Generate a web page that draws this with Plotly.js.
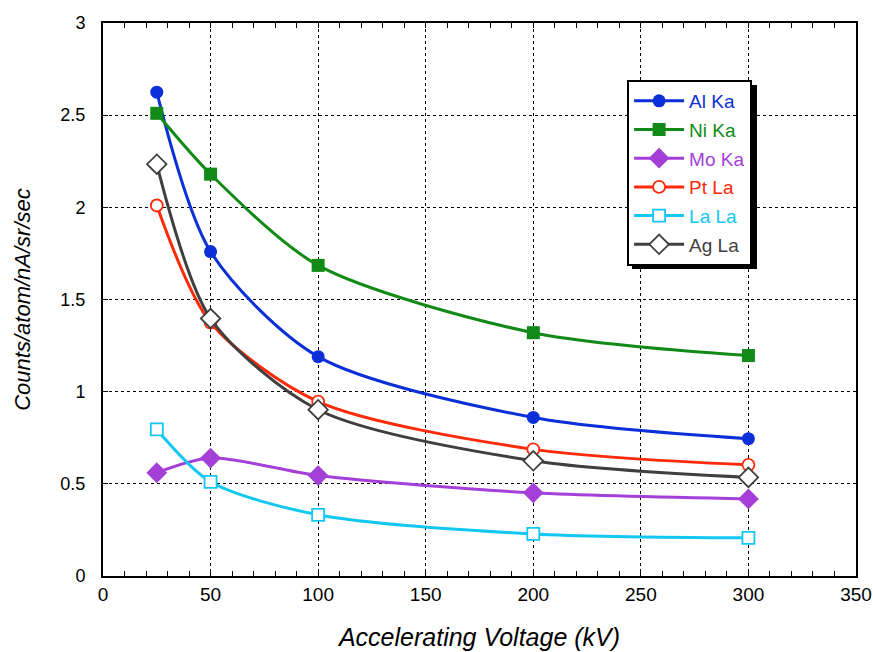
<!DOCTYPE html>
<html>
<head>
<meta charset="utf-8">
<script src="https://cdn.plot.ly/plotly-3.0.1.min.js"></script>
<style>html,body{margin:0;padding:0;background:#fff;}#chart{width:873px;height:652px;}</style>
</head>
<body>
<div id="chart"></div>
<script>
// Data
var voltages = [25, 50, 100, 200, 300];
var alKa = [2.625, 1.76, 1.19, 0.86, 0.745];
var niKa = [2.51, 2.18, 1.685, 1.32, 1.196];
var moKa = [0.56, 0.64, 0.545, 0.451, 0.418];
var ptLa = [2.01, 1.375, 0.946, 0.687, 0.603];
var laLa = [0.795, 0.511, 0.332, 0.228, 0.207];
var agLa = [2.234, 1.397, 0.902, 0.625, 0.535];
var seriesNames = ['Al Ka', 'Ni Ka', 'Mo Ka', 'Pt La', 'La La', 'Ag La'];

var styles = [
  {color: '#0b2fd8', symbol: 'circle', size: 13, open: false},
  {color: '#118a17', symbol: 'square', size: 13, open: false},
  {color: '#a43fd8', symbol: 'diamond', size: 16, open: false},
  {color: '#ff2a0a', symbol: 'circle', size: 12, open: true},
  {color: '#12c8f2', symbol: 'square', size: 12, open: true},
  {color: '#3f3f3f', symbol: 'diamond', size: 15, open: true}
];
var values = [alKa, niKa, moKa, ptLa, laLa, agLa];

var traces = values.map(function (v, i) {
  var s = styles[i];
  return {
    x: voltages, y: v, type: 'scatter', mode: 'lines+markers',
    name: '<span style="color:' + s.color + '">' + seriesNames[i] + '</span>',
    legendgroup: 'g' + i,
    line: {color: s.color, width: 3, shape: 'spline', smoothing: 0.8},
    marker: {color: s.open ? '#ffffff' : s.color, symbol: s.symbol, size: s.size,
             line: {color: s.color, width: s.open ? 1.8 : 0}},
    cliponaxis: false
  };
});

var font = "'Liberation Sans', Arial, Helvetica, sans-serif";
var layout = {
  width: 873, height: 652,
  margin: {l: 103, r: 17, t: 23, b: 76},
  paper_bgcolor: '#fff', plot_bgcolor: '#fff',
  font: {family: font, size: 18, color: '#000'},
  showlegend: true,
  legend: {
    x: 0.696, y: 0.897, xanchor: 'left', yanchor: 'top',
    bgcolor: '#fff', bordercolor: '#000', borderwidth: 2,
    font: {family: font, size: 19},
    itemwidth: 50,
    traceorder: 'grouped', tracegroupgap: 1
  },
  xaxis: {
    range: [0, 350], dtick: 50, tick0: 0,
    showgrid: true, gridcolor: '#000', griddash: 'dot', gridwidth: 1,
    zeroline: false, showline: true, linecolor: '#000', linewidth: 2, mirror: 'allticks',
    ticks: 'inside', ticklen: 5, tickcolor: '#000',
    minor: {dtick: 10, ticks: 'inside', ticklen: 5, tickcolor: '#000', showgrid: false},
    tickfont: {size: 19},
    title: {text: 'Accelerating Voltage (kV)', font: {size: 25, style: 'italic'}, standoff: 25}
  },
  yaxis: {
    range: [0, 3], dtick: 0.5, tick0: 0,
    showgrid: true, gridcolor: '#000', griddash: 'dot', gridwidth: 1,
    zeroline: false, showline: true, linecolor: '#000', linewidth: 2, mirror: true,
    ticks: 'inside', ticklen: 5, tickcolor: '#000',
    ticklabelstandoff: 12,
    tickfont: {size: 18},
    title: {text: 'Counts/atom/nA/sr/sec', font: {size: 22, style: 'italic'}, standoff: 24}
  },
  shapes: [{
    type: 'rect', xref: 'paper', yref: 'paper', layer: 'above',
    x0: 0.7025, x1: 0.8685, y0: 0.555, y1: 0.888,
    fillcolor: '#000', line: {width: 0}
  }]
};

Plotly.newPlot('chart', traces, layout, {displayModeBar: false, staticPlot: true});
</script>
</body>
</html>
